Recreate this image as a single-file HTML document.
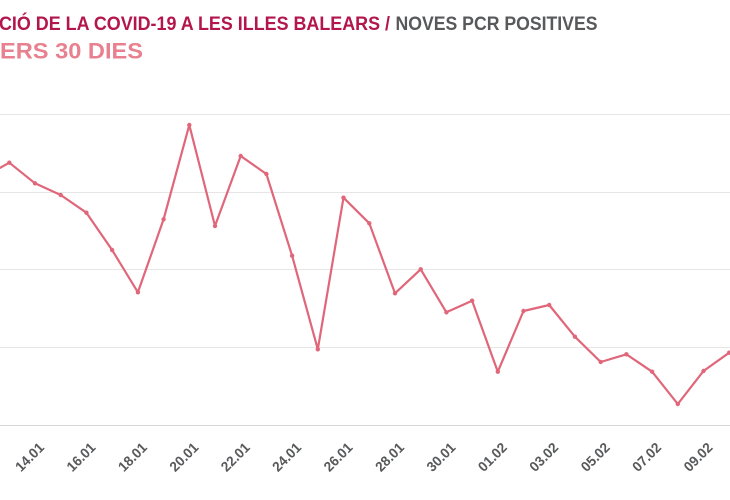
<!DOCTYPE html>
<html>
<head>
<meta charset="utf-8">
<style>
  html, body { margin:0; padding:0; background:#ffffff; }
  body { width:730px; height:500px; overflow:hidden; }
  svg { display:block; }
  text { font-family: "Liberation Sans", "DejaVu Sans", sans-serif; font-weight:bold; }
</style>
</head>
<body>
<svg width="730" height="500" viewBox="0 0 730 500" xmlns="http://www.w3.org/2000/svg">
  <rect x="0" y="0" width="730" height="500" fill="#ffffff"/>

  <!-- Titles -->
  <text x="-1" y="30" font-size="19.5" fill="#b3164c" textLength="391" lengthAdjust="spacingAndGlyphs">CIÓ DE LA COVID-19 A LES ILLES BALEARS /</text>
  <text x="395.5" y="30" font-size="19.5" fill="#58595b" textLength="202" lengthAdjust="spacingAndGlyphs">NOVES PCR POSITIVES</text>
  <text x="0" y="58.5" font-size="22.5" fill="#e8808f" textLength="143" lengthAdjust="spacingAndGlyphs">ERS 30 DIES</text>

  <!-- Grid lines -->
  <g stroke="#e6e6e6" stroke-width="1">
    <line x1="0" y1="114.5" x2="730" y2="114.5"/>
    <line x1="0" y1="192.5" x2="730" y2="192.5"/>
    <line x1="0" y1="269.5" x2="730" y2="269.5"/>
    <line x1="0" y1="347.5" x2="730" y2="347.5"/>
  </g>
  <line x1="0" y1="425.5" x2="730" y2="425.5" stroke="#d6d6d6" stroke-width="1"/>

  <!-- Series -->
  <polyline fill="none" stroke="#e0667a" stroke-width="2.2" stroke-linejoin="round" stroke-linecap="round"
    points="-16.4,177 9.3,162.7 35.0,183.3 60.7,195 86.4,212.7 112.1,250 137.9,292.3 163.6,219.3 189.3,125 215.0,226 240.7,156 266.4,174 292.1,255.7 317.8,349.3 343.5,197.7 369.3,223.3 395.0,293.3 420.7,269.3 446.4,312.3 472.1,300.7 497.8,371.7 523.5,311 549.2,305 574.9,336.7 600.7,362 626.4,354.3 652.1,371.7 677.8,404 703.5,371 729.2,352.7 755,335"/>
  <g fill="#e0667a">
    <circle cx="9.3" cy="162.7" r="2.2"/>
    <circle cx="35.0" cy="183.3" r="2.2"/>
    <circle cx="60.7" cy="195" r="2.2"/>
    <circle cx="86.4" cy="212.7" r="2.2"/>
    <circle cx="112.1" cy="250" r="2.2"/>
    <circle cx="137.9" cy="292.3" r="2.2"/>
    <circle cx="163.6" cy="219.3" r="2.2"/>
    <circle cx="189.3" cy="125" r="2.2"/>
    <circle cx="215.0" cy="226" r="2.2"/>
    <circle cx="240.7" cy="156" r="2.2"/>
    <circle cx="266.4" cy="174" r="2.2"/>
    <circle cx="292.1" cy="255.7" r="2.2"/>
    <circle cx="317.8" cy="349.3" r="2.2"/>
    <circle cx="343.5" cy="197.7" r="2.2"/>
    <circle cx="369.3" cy="223.3" r="2.2"/>
    <circle cx="395.0" cy="293.3" r="2.2"/>
    <circle cx="420.7" cy="269.3" r="2.2"/>
    <circle cx="446.4" cy="312.3" r="2.2"/>
    <circle cx="472.1" cy="300.7" r="2.2"/>
    <circle cx="497.8" cy="371.7" r="2.2"/>
    <circle cx="523.5" cy="311" r="2.2"/>
    <circle cx="549.2" cy="305" r="2.2"/>
    <circle cx="574.9" cy="336.7" r="2.2"/>
    <circle cx="600.7" cy="362" r="2.2"/>
    <circle cx="626.4" cy="354.3" r="2.2"/>
    <circle cx="652.1" cy="371.7" r="2.2"/>
    <circle cx="677.8" cy="404" r="2.2"/>
    <circle cx="703.5" cy="371" r="2.2"/>
    <circle cx="729.2" cy="352.7" r="2.2"/>
  </g>

  <!-- X axis labels -->
  <g font-size="14" fill="#58595b" text-anchor="end">
    <text transform="translate(45,448.4) rotate(-45)" textLength="34" lengthAdjust="spacingAndGlyphs">14.01</text>
    <text transform="translate(96.4,448.4) rotate(-45)" textLength="34" lengthAdjust="spacingAndGlyphs">16.01</text>
    <text transform="translate(147.9,448.4) rotate(-45)" textLength="34" lengthAdjust="spacingAndGlyphs">18.01</text>
    <text transform="translate(199.3,448.4) rotate(-45)" textLength="34" lengthAdjust="spacingAndGlyphs">20.01</text>
    <text transform="translate(250.7,448.4) rotate(-45)" textLength="34" lengthAdjust="spacingAndGlyphs">22.01</text>
    <text transform="translate(302.1,448.4) rotate(-45)" textLength="34" lengthAdjust="spacingAndGlyphs">24.01</text>
    <text transform="translate(353.5,448.4) rotate(-45)" textLength="34" lengthAdjust="spacingAndGlyphs">26.01</text>
    <text transform="translate(405,448.4) rotate(-45)" textLength="34" lengthAdjust="spacingAndGlyphs">28.01</text>
    <text transform="translate(456.4,448.4) rotate(-45)" textLength="34" lengthAdjust="spacingAndGlyphs">30.01</text>
    <text transform="translate(507.8,448.4) rotate(-45)" textLength="34" lengthAdjust="spacingAndGlyphs">01.02</text>
    <text transform="translate(559.2,448.4) rotate(-45)" textLength="34" lengthAdjust="spacingAndGlyphs">03.02</text>
    <text transform="translate(610.7,448.4) rotate(-45)" textLength="34" lengthAdjust="spacingAndGlyphs">05.02</text>
    <text transform="translate(662.1,448.4) rotate(-45)" textLength="34" lengthAdjust="spacingAndGlyphs">07.02</text>
    <text transform="translate(713.5,448.4) rotate(-45)" textLength="34" lengthAdjust="spacingAndGlyphs">09.02</text>
  </g>
</svg>
</body>
</html>
